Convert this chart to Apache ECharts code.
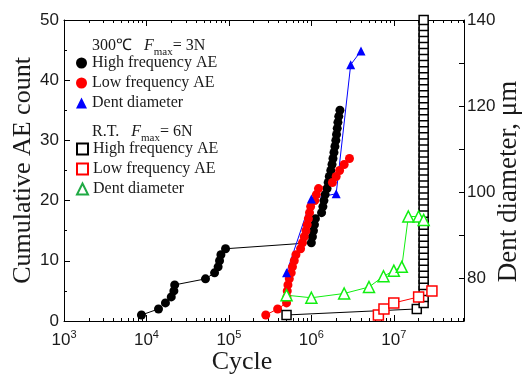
<!DOCTYPE html>
<html>
<head>
<meta charset="utf-8">
<script src="https://cdn.jsdelivr.net/npm/echarts@6/dist/echarts.min.js"></script>
<style>
  html, body { margin: 0; padding: 0; background: #fff; }
  #chart { width: 524px; height: 374px; }
</style>
</head>
<body>
<div id="chart"></div>
<script>
// x axis: cycles, log scale (exponents of 10)
const xMin = 1e3;
const xMax = 7.1e7;
const xTickExps = [3, 4, 5, 6, 7];

// 300°C, Fmax = 3N
const hfHotCycles = [8.7e3, 1.4e4, 1.7e4, 2.0e4, 2.15e4, 2.2e4, 5.2e4, 6.7e4, 7.4e4, 7.7e4, 8.0e4, 9.1e4,
  1.0e6, 1.03e6, 1.06e6, 1.09e6, 1.12e6, 1.33e6, 1.38e6, 1.42e6, 1.47e6, 1.55e6, 1.6e6, 1.65e6,
  1.72e6, 1.78e6, 1.83e6, 1.88e6, 1.93e6, 1.98e6, 2.02e6, 2.06e6, 2.1e6, 2.15e6, 2.22e6];
const hfHotCounts = [1, 2, 3, 4, 5, 6, 7, 8, 9, 10, 11, 12, 13, 14, 15, 16, 17, 18, 19, 20, 21, 22, 23, 24,
  25, 26, 27, 28, 29, 30, 31, 32, 33, 34, 35];

const lfHotCycles = [2.8e5, 3.9e5, 5.0e5, 5.05e5, 5.1e5, 5.2e5, 5.4e5, 5.7e5, 5.9e5, 6.2e5, 6.5e5, 7.4e5,
  7.8e5, 8.2e5, 8.6e5, 8.9e5, 9.2e5, 9.5e5, 9.8e5, 1.1e6, 1.15e6, 1.22e6, 1.8e6, 2.0e6, 2.2e6, 2.5e6, 2.9e6];
const lfHotCounts = [1, 2, 3, 4, 5, 6, 7, 8, 9, 10, 11, 12, 13, 14, 15, 16, 17, 18, 19, 20, 21, 22, 23, 24,
  25, 26, 27];

const dentHotCycles = [5e5, 1e6, 2e6, 3e6, 4e6];
const dentHotDiam = [81.2, 98.4, 99.6, 129.6, 132.8];

// R.T., Fmax = 6N
const hfRtCycles = [5e5, 1.9e7, 2.3e7, 2.3e7, 2.3e7, 2.3e7, 2.3e7, 2.3e7, 2.3e7, 2.3e7, 2.3e7, 2.3e7,
  2.3e7, 2.3e7, 2.3e7, 2.3e7, 2.3e7, 2.3e7, 2.3e7, 2.3e7, 2.3e7, 2.3e7, 2.3e7, 2.3e7, 2.3e7, 2.3e7,
  2.3e7, 2.3e7, 2.3e7, 2.3e7, 2.3e7, 2.3e7, 2.3e7, 2.3e7, 2.3e7, 2.3e7, 2.3e7, 2.3e7, 2.3e7, 2.3e7,
  2.3e7, 2.3e7, 2.3e7, 2.3e7, 2.3e7, 2.3e7, 2.3e7, 2.3e7, 2.3e7, 2.3e7];
const hfRtCounts = [1, 2, 3, 4, 5, 6, 7, 8, 9, 10, 11, 12, 13, 14, 15, 16, 17, 18, 19, 20, 21, 22, 23, 24,
  25, 26, 27, 28, 29, 30, 31, 32, 33, 34, 35, 36, 37, 38, 39, 40, 41, 42, 43, 44, 45, 46, 47, 48, 49, 50];

const lfRtCycles = [6.5e6, 7.6e6, 1.0e7, 2.0e7, 2.9e7];
const lfRtCounts = [1, 2, 3, 4, 5];

const dentRtCycles = [5e5, 1e6, 2.5e6, 5e6, 7.5e6, 1e7, 1.25e7, 1.5e7, 2e7, 2.3e7];
const dentRtDiam = [76.0, 75.4, 76.4, 77.9, 80.4, 81.7, 82.6, 94.3, 94.3, 93.5];

const pts = (xs, ys) => xs.map((c, i) => [Math.log10(c), ys[i]]);

// minor log ticks 2..9 in each decade
const minorTicks = [];
xTickExps.forEach(n => {
  for (let k = 2; k <= 9; k++) {
    const v = Math.log10(k * Math.pow(10, n));
    if (v < Math.log10(xMax)) minorTicks.push(v);
  }
});

const serif = 'Liberation Serif';
const sans = 'Liberation Sans';
const ink = '#1a1a1a';

const xBase = { type: 'value', min: Math.log10(xMin), max: Math.log10(xMax), splitLine: { show: false } };

const chart = echarts.init(document.getElementById('chart'));
chart.setOption({
  animation: false,
  grid: { left: 64, right: 60, top: 20, bottom: 53, outerBoundsMode: 'none' },
  xAxis: [
    Object.assign({}, xBase, {
      position: 'bottom',
      name: 'Cycle', nameLocation: 'middle', nameGap: 28, nameMoveOverlap: false,
      nameTextStyle: { fontFamily: serif, fontSize: 26, color: ink, padding: [0, 44, 0, 0] },
      axisLine: { lineStyle: { color: '#000', width: 1 } },
      axisTick: { inside: true, length: 6, customValues: xTickExps, lineStyle: { color: '#000' } },
      axisLabel: {
        customValues: xTickExps, margin: 8,
        formatter: v => '{b|10}{s|' + Math.round(v) + '}',
        rich: {
          b: { fontFamily: sans, fontSize: 17, color: ink, lineHeight: 22 },
          s: { fontFamily: sans, fontSize: 11, color: ink, lineHeight: 11, verticalAlign: 'top' }
        }
      }
    }),
    Object.assign({}, xBase, {
      position: 'bottom', axisLine: { show: false }, axisLabel: { show: false },
      axisTick: { inside: true, length: 3, customValues: minorTicks, lineStyle: { color: '#000' } }
    }),
    Object.assign({}, xBase, {
      position: 'top', axisLabel: { show: false },
      axisLine: { lineStyle: { color: '#000', width: 1 } },
      axisTick: { inside: true, length: 6, customValues: xTickExps, lineStyle: { color: '#000' } }
    }),
    Object.assign({}, xBase, {
      position: 'top', axisLine: { show: false }, axisLabel: { show: false },
      axisTick: { inside: true, length: 3, customValues: minorTicks, lineStyle: { color: '#000' } }
    })
  ],
  yAxis: [
    {
      type: 'value', position: 'left', min: 0, max: 50, interval: 10,
      name: 'Cumulative AE count', nameLocation: 'middle', nameGap: 28, nameRotate: 90,
      nameMoveOverlap: false,
      nameTextStyle: { fontFamily: serif, fontSize: 26, color: ink },
      splitLine: { show: false },
      axisLine: { show: true, lineStyle: { color: '#000', width: 1 } },
      axisTick: { show: true, inside: true, length: 6, lineStyle: { color: '#000' } },
      minorTick: { show: true, splitNumber: 2, length: 3, lineStyle: { color: '#000' } },
      axisLabel: { fontFamily: sans, fontSize: 17, color: ink, margin: 5 }
    },
    {
      type: 'value', position: 'right', min: 70, max: 140, interval: 10,
      name: 'Dent diameter, μm', nameLocation: 'middle', nameGap: 31, nameRotate: 90,
      nameMoveOverlap: false,
      nameTextStyle: { fontFamily: serif, fontSize: 27, color: ink, padding: [0, 22, 0, 0] },
      splitLine: { show: false },
      axisLine: { show: true, lineStyle: { color: '#000', width: 1 } },
      axisTick: { show: true, inside: true, length: 5, lineStyle: { color: '#000' } },
      axisLabel: {
        fontFamily: sans, fontSize: 17, color: ink, margin: 3,
        formatter: v => ((v - 80) % 20 === 0 ? String(v) : '')
      }
    }
  ],
  legend: [
    {
      left: 71, top: 50, orient: 'vertical', itemWidth: 11, itemHeight: 11, itemGap: 4,
      selectedMode: false,
      textStyle: { fontFamily: serif, fontSize: 16, color: ink },
      formatter: n => n.split('|')[0],
      data: [
        { name: 'High frequency AE|300', icon: 'circle' },
        { name: 'Low frequency AE|300', icon: 'circle' },
        { name: 'Dent diameter|300', icon: 'triangle' }
      ]
    },
    {
      left: 71, top: 136, orient: 'vertical', itemWidth: 11, itemHeight: 11, itemGap: 4,
      selectedMode: false,
      textStyle: { fontFamily: serif, fontSize: 16, color: ink },
      formatter: n => n.split('|')[0],
      data: [
        { name: 'High frequency AE|RT', icon: 'rect' },
        { name: 'Low frequency AE|RT', icon: 'rect' },
        { name: 'Dent diameter|RT', icon: 'triangle', itemStyle: { borderColor: '#1faa44' } }
      ]
    }
  ],
  graphic: [
    {
      type: 'text', left: 92, top: 38,
      style: {
        text: '{a|300℃   }{i|F}{s|max}{a|= 3N}',
        rich: {
          a: { fontFamily: serif, fontSize: 16, fill: ink, lineHeight: 24 },
          i: { fontFamily: serif, fontSize: 16, fontStyle: 'italic', fill: ink, lineHeight: 24 },
          s: { fontFamily: serif, fontSize: 11, fill: ink, lineHeight: 11, verticalAlign: 'bottom' }
        }
      }
    },
    {
      type: 'text', left: 92, top: 124,
      style: {
        text: '{a|R.T.   }{i|F}{s|max}{a|= 6N}',
        rich: {
          a: { fontFamily: serif, fontSize: 16, fill: ink, lineHeight: 24 },
          i: { fontFamily: serif, fontSize: 16, fontStyle: 'italic', fill: ink, lineHeight: 24 },
          s: { fontFamily: serif, fontSize: 11, fill: ink, lineHeight: 11, verticalAlign: 'bottom' }
        }
      }
    }
  ],
  series: [
    {
      name: 'High frequency AE|300', type: 'line', data: pts(hfHotCycles, hfHotCounts),
      symbol: 'circle', symbolSize: 9,
      itemStyle: { color: '#000' }, lineStyle: { color: '#000', width: 1 }
    },
    {
      name: 'Low frequency AE|300', type: 'line', data: pts(lfHotCycles, lfHotCounts),
      symbol: 'circle', symbolSize: 9,
      itemStyle: { color: '#ff0000' }, lineStyle: { color: '#ff0000', width: 1 }
    },
    {
      name: 'Dent diameter|300', type: 'line', yAxisIndex: 1, data: pts(dentHotCycles, dentHotDiam),
      symbol: 'triangle', symbolSize: 9,
      itemStyle: { color: '#0000ff' }, lineStyle: { color: '#0000ff', width: 1 }
    },
    {
      name: 'High frequency AE|RT', type: 'line', data: pts(hfRtCycles, hfRtCounts),
      symbol: 'rect', symbolSize: 9,
      itemStyle: { color: '#fff', borderColor: '#000', borderWidth: 1.5 },
      lineStyle: { color: '#000', width: 1 }
    },
    {
      name: 'Low frequency AE|RT', type: 'line', data: pts(lfRtCycles, lfRtCounts),
      symbol: 'rect', symbolSize: 10,
      itemStyle: { color: '#fff', borderColor: '#ff0000', borderWidth: 1.5 },
      lineStyle: { color: '#ff0000', width: 1 }
    },
    {
      name: 'Dent diameter|RT', type: 'line', yAxisIndex: 1, data: pts(dentRtCycles, dentRtDiam),
      symbol: 'triangle', symbolSize: 11,
      itemStyle: { color: '#fff', borderColor: '#11ee11', borderWidth: 1.5 },
      lineStyle: { color: '#11ee11', width: 1 }
    }
  ]
});
</script>
</body>
</html>
